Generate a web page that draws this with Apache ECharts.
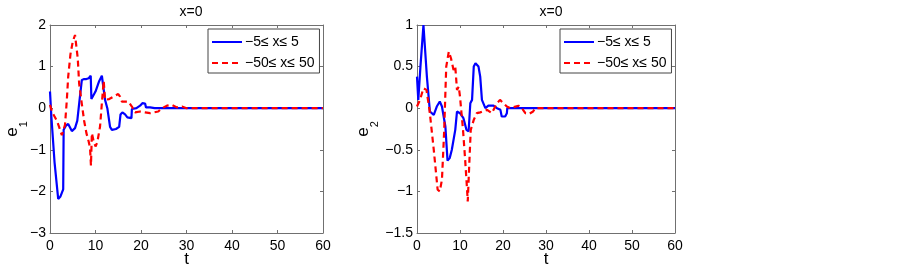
<!DOCTYPE html>
<html>
<head>
<meta charset="utf-8">
<script src="https://cdn.jsdelivr.net/npm/echarts@6/dist/echarts.min.js"></script>
<style>
html,body{margin:0;padding:0;background:#fff;}
#chart{width:903px;height:267px;}
</style>
</head>
<body>
<div id="chart"></div>
<script>
// ---- data ----
var titleText = 'x=0';
var seriesNames = ['\u22125\u2264 x\u2264 5', '\u221250\u2264 x\u2264 50'];
var xTicks = [0, 10, 20, 30, 40, 50, 60];
var e1Ticks = [-3, -2, -1, 0, 1, 2];
var e2Ticks = [-1.5, -1, -0.5, 0, 0.5, 1];

var e1Small = [[0,0.4],[0.3,-0.2],[1.0,-1.3],[1.8,-2.18],[2.3,-2.12],[2.9,-1.95],[3.0,-0.52],[3.5,-0.42],[4.0,-0.38],[4.8,-0.55],[5.5,-0.48],[6.0,-0.3],[6.5,0.2],[7.0,0.68],[7.5,0.7],[8.0,0.7],[8.5,0.72],[8.95,0.78],[9.1,0.22],[10.0,0.4],[10.8,0.65],[11.4,0.78],[11.8,0.74],[12.1,0.2],[12.6,0.0],[13.2,-0.45],[13.6,-0.52],[14.5,-0.5],[15.2,-0.45],[15.5,-0.15],[15.9,-0.1],[16.5,-0.15],[17.0,-0.22],[17.9,-0.24],[18.0,-0.02],[19.0,0.0],[19.8,0.06],[20.3,0.12],[20.9,0.11],[21.1,0.02],[22,0.02],[23,0],[60,0]];
var e1Large = [[0,0.08],[0.5,-0.1],[1.0,-0.2],[1.5,-0.3],[2.0,-0.45],[2.6,-0.65],[3.0,-0.62],[3.3,-0.4],[3.7,0.2],[4.0,0.76],[4.5,1.3],[5.0,1.6],[5.5,1.76],[5.9,1.8],[6.1,1.2],[6.4,0.6],[7.0,0.1],[7.5,-0.3],[8.0,-0.6],[8.5,-0.8],[8.8,-0.95],[9.0,-1.38],[9.2,-0.6],[9.6,-0.8],[10.0,-0.92],[10.4,-0.82],[11.0,-0.44],[11.4,0.12],[11.8,0.66],[12.1,0.2],[13.0,0.22],[14.0,0.28],[15.0,0.34],[15.4,0.28],[15.8,0.16],[17.2,0.16],[18.0,0.04],[18.7,-0.1],[19.8,-0.08],[20.9,-0.1],[22.0,-0.12],[23.8,-0.08],[24.6,0.0],[25.7,0.06],[26.8,0.08],[27.9,0.02],[29,0.04],[30,0],[60,0]];
var e2Small = [[0,0.38],[0.3,0.1],[0.8,0.5],[1.5,1.0],[2.3,0.38],[3.0,-0.04],[3.9,-0.08],[4.6,0.02],[5.3,0.08],[5.8,0.02],[6.6,-0.22],[7.1,-0.63],[7.6,-0.6],[8.1,-0.5],[8.9,-0.26],[9.3,-0.04],[10.0,-0.06],[10.8,-0.12],[11.5,-0.26],[12.0,-0.28],[12.4,0.06],[12.8,0.1],[13.2,0.5],[13.6,0.54],[14.3,0.5],[14.7,0.38],[15.1,0.1],[15.9,0.0],[16.6,0.03],[17.8,0.03],[18.6,0.0],[19.4,-0.02],[19.7,-0.1],[20.5,-0.1],[20.9,-0.06],[21.0,0],[60,0]];
var e2Large = [[0,0.02],[0.7,0.1],[1.5,0.24],[2.2,0.22],[2.9,-0.02],[3.9,-0.5],[4.8,-0.98],[5.3,-1.0],[5.8,-0.86],[6.3,-0.3],[6.8,0.5],[7.4,0.68],[7.9,0.6],[8.5,0.46],[8.9,0.5],[9.3,0.22],[9.7,0.26],[10.0,0.14],[10.7,-0.26],[11.2,-0.62],[11.6,-0.94],[11.8,-1.12],[12.2,-0.62],[12.5,-0.26],[13.2,-0.14],[13.9,-0.06],[14.7,-0.05],[16.3,-0.02],[17.4,-0.06],[18.6,0.06],[19.3,0.1],[20.1,0.06],[20.9,0.02],[21.7,0.0],[23.6,0.03],[24.4,0.0],[25.2,-0.06],[26.0,-0.07],[27.0,-0.04],[27.5,0],[60,0]];

// ---- chart ----
var FONT = 'Liberation Sans, Arial, sans-serif';
var AX = '#707070';
function fmt(v){ return String(v).replace('-', '\u2212'); }

function xAxes(gi){
  var base = {type:'value', gridIndex:gi, min:xTicks[0], max:xTicks[xTicks.length-1], interval:10,
    splitLine:{show:false}, axisLine:{show:true, onZero:false, lineStyle:{color:AX,width:1}},
    axisTick:{show:true, inside:true, length:3, lineStyle:{color:AX}}};
  return [
    Object.assign({}, base, {position:'bottom', name:'t', nameLocation:'middle', nameGap:18, nameMoveOverlap:false,
      nameTextStyle:{fontFamily:FONT,fontSize:17,color:'#000'},
      axisLabel:{fontFamily:FONT,fontSize:14,color:'#000',margin:6}}),
    Object.assign({}, base, {position:'top', axisLabel:{show:false}})
  ];
}
function yAxes(gi, ticks, sub, gap){
  var base = {type:'value', gridIndex:gi, min:ticks[0], max:ticks[ticks.length-1], interval:ticks[1]-ticks[0],
    splitLine:{show:false}, axisLine:{show:true, onZero:false, lineStyle:{color:AX,width:1}},
    axisTick:{show:true, inside:true, length:3, lineStyle:{color:AX}}};
  return [
    Object.assign({}, base, {position:'left', name:'{e|e}{s|'+sub+'}', nameLocation:'middle', nameGap:gap, nameRotate:90, nameMoveOverlap:false,
      nameTextStyle:{fontFamily:FONT, color:'#000', rich:{
        e:{fontFamily:FONT,fontSize:17,color:'#000',lineHeight:22,verticalAlign:'middle'},
        s:{fontFamily:FONT,fontSize:11,color:'#000',lineHeight:22,verticalAlign:'bottom',padding:[0,0,-6,0]}}},
      axisLabel:{fontFamily:FONT,fontSize:14,color:'#000',margin:4,formatter:fmt}}),
    Object.assign({}, base, {position:'right', axisLabel:{show:false}})
  ];
}
function ser(name, data, gi, dashed){
  return {name:name, type:'line', xAxisIndex:gi*2, yAxisIndex:gi*2, data:data, showSymbol:false, symbol:'none',
    smooth:false, animation:false, z: dashed?3:2,
    lineStyle:{color: dashed?'#ff0000':'#0000ff', width: 2.2, type: dashed?[6,4]:'solid'},
    itemStyle:{color: dashed?'#ff0000':'#0000ff'}};
}
function legend(left){
  return {orient:'vertical', left:left, top:29, padding:[6,5,3,3], itemWidth:30, itemHeight:14, itemGap:7,
    borderColor:'#444', borderWidth:1, backgroundColor:'#fff',
    itemStyle:{opacity:0},
    data:seriesNames.map(function(n){return {name:n};}),
    textStyle:{fontFamily:FONT,fontSize:14,color:'#000',padding:[0,0,0,-2]}};
}

var chart = echarts.init(document.getElementById('chart'), null, {renderer:'canvas'});
chart.setOption({
  animation:false,
  backgroundColor:'#fff',
  title:[
    {text:titleText, left:186, top:0, textAlign:'center', textStyle:{fontFamily:FONT,fontSize:14,fontWeight:'normal',color:'#000'}},
    {text:titleText, left:546, top:0, textAlign:'center', textStyle:{fontFamily:FONT,fontSize:14,fontWeight:'normal',color:'#000'}}
  ],
  grid:[
    {left:50, top:25, width:273, height:208, containLabel:false, outerBoundsMode:'none'},
    {left:417, top:25, width:258, height:208, containLabel:false, outerBoundsMode:'none'}
  ],
  xAxis: xAxes(0).concat(xAxes(1)),
  yAxis: yAxes(0, e1Ticks, '1', 27).concat(yAxes(1, e2Ticks, '2', 43)),
  legend:[legend(208), legend(560)],
  series:[
    ser(seriesNames[0], e1Small, 0, false),
    ser(seriesNames[1], e1Large, 0, true),
    ser(seriesNames[0], e2Small, 1, false),
    ser(seriesNames[1], e2Large, 1, true)
  ]
});
</script>
</body>
</html>
